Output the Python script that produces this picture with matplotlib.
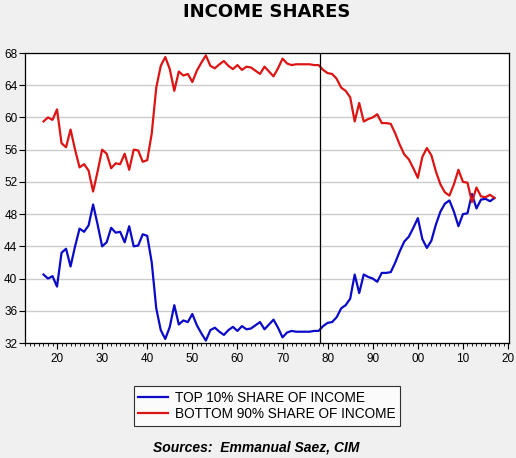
import matplotlib
matplotlib.use('Agg')
import matplotlib.pyplot as plt
from matplotlib.ticker import MultipleLocator

# годы наблюдений
years = list(range(1917, 2018))

# доля верхних 10%
top10 = [40.5, 40.0, 40.3, 39.0, 43.2, 43.7, 41.5, 44.0, 46.2, 45.8,
         46.6, 49.2, 46.7, 44.0, 44.5, 46.3, 45.7, 45.8, 44.5, 46.5,
         44.0, 44.1, 45.5, 45.3, 42.0, 36.3, 33.6, 32.5, 34.0, 36.7,
         34.3, 34.8, 34.6, 35.6, 34.2, 33.2, 32.3, 33.6, 33.9, 33.4,
         33.0, 33.6, 34.0, 33.5, 34.1, 33.7, 33.8, 34.2, 34.6, 33.7,
         34.3, 34.9, 33.9, 32.7, 33.3, 33.5, 33.4, 33.4, 33.4, 33.4,
         33.5, 33.5, 34.1, 34.5, 34.6, 35.2, 36.3, 36.7, 37.5, 40.5,
         38.2, 40.5, 40.2, 40.0, 39.6, 40.7, 40.7, 40.8, 42.0, 43.4,
         44.6, 45.2, 46.3, 47.5, 44.9, 43.8, 44.7, 46.7, 48.3, 49.3,
         49.7, 48.3, 46.5, 48.0, 48.1, 50.5, 48.7, 49.8, 49.9, 49.6,
         50.0]

# доля нижних 90%
bottom90 = [59.5, 60.0, 59.7, 61.0, 56.8, 56.3, 58.5, 56.0, 53.8, 54.2,
            53.4, 50.8, 53.3, 56.0, 55.5, 53.7, 54.3, 54.2, 55.5, 53.5,
            56.0, 55.9, 54.5, 54.7, 58.0, 63.7, 66.4, 67.5, 66.0, 63.3,
            65.7, 65.2, 65.4, 64.4, 65.8, 66.8, 67.7, 66.4, 66.1, 66.6,
            67.0, 66.4, 66.0, 66.5, 65.9, 66.3, 66.2, 65.8, 65.4, 66.3,
            65.7, 65.1, 66.1, 67.3, 66.7, 66.5, 66.6, 66.6, 66.6, 66.6,
            66.5, 66.5, 65.9, 65.5, 65.4, 64.8, 63.7, 63.3, 62.5, 59.5,
            61.8, 59.5, 59.8, 60.0, 60.4, 59.3, 59.3, 59.2, 58.0, 56.6,
            55.4, 54.8, 53.7, 52.5, 55.1, 56.2, 55.3, 53.3, 51.7, 50.7,
            50.3, 51.7, 53.5, 52.0, 51.9, 49.5, 51.3, 50.2, 50.1, 50.4,
            50.0]

x_ticks = [1920, 1930, 1940, 1950, 1960, 1970, 1980, 1990, 2000, 2010, 2020]
x_labels = ['20', '30', '40', '50', '60', '70', '80', '90', '00', '10', '20']
y_ticks = [32, 36, 40, 44, 48, 52, 56, 60, 64, 68]

plt.rcParams['font.family'] = ['Liberation Sans', 'DejaVu Sans']

W, H = 516, 458
fig = plt.figure(figsize=(W / 100, H / 100), dpi=100, facecolor='#f0f0f0')
ax = fig.add_axes([25 / W, (H - 343) / H, 483.5 / W, 290 / H])
ax.set_facecolor('white')

line1, = ax.plot(years, top10, color='#0a0ac8', lw=1.6, label='TOP 10% SHARE OF INCOME')
line2, = ax.plot(years, bottom90, color='#dc1414', lw=1.6, label='BOTTOM 90% SHARE OF INCOME')
ax.axvline(1978.3, color='black', lw=0.9)

ax.set_xlim(1912.9, 2020.1)
ax.set_ylim(32, 68)
ax.set_yticks(y_ticks)
ax.set_xticks(x_ticks)
ax.set_xticklabels(x_labels)
ax.xaxis.set_minor_locator(MultipleLocator(1))
ax.grid(axis='y', color='#cccccc', lw=1)
ax.set_axisbelow(True)

ax.tick_params(axis='both', which='major', labelsize=8.5, length=4, width=0.8,
               direction='out', color='black')
ax.tick_params(axis='x', which='minor', length=2, width=0.6)
ax.tick_params(axis='y', pad=1.5)
ax.tick_params(axis='x', pad=3)
for s in ax.spines.values():
    s.set_color('black')
    s.set_linewidth(0.9)

fig.text(267 / W, 1 - 12 / H, 'INCOME SHARES', ha='center', va='center',
         fontsize=13, fontweight='bold', family='DejaVu Sans')

leg = fig.legend(handles=[line1, line2], loc='center',
                 bbox_to_anchor=(267 / W, 1 - 406 / H), fontsize=9.8,
                 frameon=True, fancybox=False, edgecolor='black',
                 handlelength=2.2, handletextpad=0.5, borderpad=0.35,
                 borderaxespad=0, labelspacing=0.15)
leg.get_frame().set_linewidth(0.8)

fig.text(256 / W, 1 - 447 / H, 'Sources:  Emmanual Saez, CIM', ha='center',
         va='center', fontsize=10, fontweight='bold', fontstyle='italic')

fig.savefig('out.png', dpi=100, facecolor=fig.get_facecolor())
